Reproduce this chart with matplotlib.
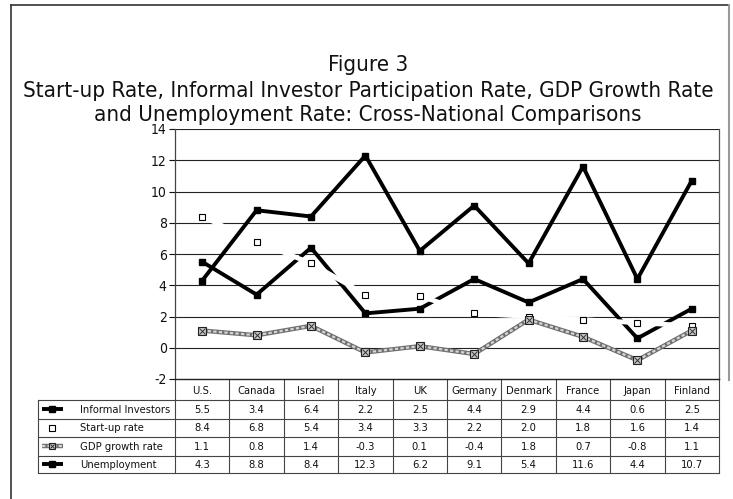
import matplotlib
matplotlib.use("Agg")
import matplotlib.pyplot as plt

# ---------------- data ----------------
countries = ["U.S.", "Canada", "Israel", "Italy", "UK", "Germany",
             "Denmark", "France", "Japan", "Finland"]
informal_investors = [5.5, 3.4, 6.4, 2.2, 2.5, 4.4, 2.9, 4.4, 0.6, 2.5]
startup_rate = [8.4, 6.8, 5.4, 3.4, 3.3, 2.2, 2.0, 1.8, 1.6, 1.4]
gdp_growth = [1.1, 0.8, 1.4, -0.3, 0.1, -0.4, 1.8, 0.7, -0.8, 1.1]
unemployment = [4.3, 8.8, 8.4, 12.3, 6.2, 9.1, 5.4, 11.6, 4.4, 10.7]
series_names = ["Informal Investors", "Start-up rate", "GDP growth rate", "Unemployment"]
yticks = [-2, 0, 2, 4, 6, 8, 10, 12, 14]
title_lines = ["Figure 3",
               "Start-up Rate, Informal Investor Participation Rate, GDP Growth Rate",
               "and Unemployment Rate: Cross-National Comparisons"]

plt.rcParams["font.family"] = ["DejaVu Sans"]
plt.rcParams["font.stretch"] = "condensed"

W, H = 733, 499
fig = plt.figure(figsize=(W / 100, H / 100), dpi=100)
fig.patch.set_facecolor("white")

# plot area in pixel coordinates
PL, PR, PT, PB = 175, 719, 129, 379
ax = fig.add_axes([PL / W, 1 - PB / H, (PR - PL) / W, (PB - PT) / H], zorder=2)
ax.set_facecolor("none")
x = list(range(len(countries)))

# styles for each series
def draw_informal(a, xs, ys, ms=5, me=None):
    a.plot(xs, ys, color="black", lw=2.8, marker="s", ms=ms, markevery=me,
           mfc="black", mec="black", zorder=3, solid_capstyle="butt")

def draw_startup(a, xs, ys, ms=5, line=True):
    if line:
        a.plot(xs, ys, color="white", lw=3.4, zorder=4)
    a.plot(xs, ys, ls="none", marker="s", ms=ms, mfc="white",
           mec="black", mew=0.8, zorder=5)

def draw_gdp(a, xs, ys, ms=5.5, me=None):
    a.plot(xs, ys, color="#6e6e6e", lw=3.2, zorder=6, solid_capstyle="butt")
    a.plot(xs, ys, color="#d4d4d4", lw=1.6, ls=(0, (1.5, 1)), zorder=6)
    a.plot(xs, ys, ls="none", marker="s", ms=ms, mfc="#c8c8c8", markevery=me,
           mec="#222222", mew=0.8, zorder=7)
    a.plot(xs, ys, ls="none", marker="x", ms=ms * 0.7, mec="#333333",
           markevery=me, mew=0.7, zorder=8)

def draw_unemp(a, xs, ys, ms=5, me=None):
    a.plot(xs, ys, color="black", lw=2.8, marker="s", ms=ms, markevery=me,
           mfc="black", mec="black", zorder=9, solid_capstyle="butt")

draw_informal(ax, x, informal_investors)
draw_startup(ax, x, startup_rate)
draw_gdp(ax, x, gdp_growth)
draw_unemp(ax, x, unemployment)

ax.set_xlim(-0.5, len(countries) - 0.5)
ax.set_ylim(yticks[0], yticks[-1])
ax.set_yticks(yticks)
ax.set_yticklabels([str(t) for t in yticks], fontsize=10)
ax.set_xticks([])
for t in yticks[1:]:
    ax.axhline(t, color="#222222", lw=0.8, zorder=1)
ax.tick_params(axis="y", length=4, width=0.8, pad=2, colors="#111111")
ax.spines["top"].set_visible(False)
ax.spines["left"].set_color("#444444")
ax.spines["left"].set_linewidth(0.9)
ax.spines["right"].set_color("#555555")
ax.spines["right"].set_linewidth(0.9)
ax.spines["bottom"].set_color("#222222")
ax.spines["bottom"].set_linewidth(1.0)

# overlay in pixel coordinates for title, table and frame
ov = fig.add_axes([0, 0, 1, 1], zorder=1)
ov.set_xlim(0, W)
ov.set_ylim(H, 0)
ov.axis("off")

# frame
ov.plot([11, 11], [5, H], color="#333333", lw=1.2)
ov.plot([11, 729], [5, 5], color="#333333", lw=1.2)
ov.plot([729, 729], [5, 380], color="#999999", lw=1.5)

# title
title_y = [65, 91, 115]
for txt, ty in zip(title_lines, title_y):
    ov.text(368, ty, txt, ha="center", va="center", fontsize=16, color="#111111")

# table
col_w = (PR - PL) / len(countries)
row_edges = [400, 418.5, 437, 455.5, 473]
TL = 38
lc = "#444444"
for y in row_edges:
    ov.plot([TL, PR], [y, y], color=lc, lw=0.8)
ov.plot([TL, TL], [row_edges[0], row_edges[-1]], color=lc, lw=0.8)
for k in range(len(countries) + 1):
    xx = PL + k * col_w
    ov.plot([xx, xx], [PB, row_edges[-1]], color=lc, lw=0.8)

for i, c in enumerate(countries):
    ov.text(PL + (i + 0.5) * col_w, (PB + row_edges[0]) / 2 + 1, c,
            ha="center", va="center", fontsize=8, color="#111111")

rows = [informal_investors, startup_rate, gdp_growth, unemployment]
for r, (name, vals) in enumerate(zip(series_names, rows)):
    yc = (row_edges[r] + row_edges[r + 1]) / 2
    for i, v in enumerate(vals):
        ov.text(PL + (i + 0.5) * col_w, yc + 0.5, f"{v:.1f}",
                ha="center", va="center", fontsize=8, color="#111111")
    ov.text(80, yc + 0.5, name, ha="left", va="center", fontsize=8, color="#111111")

# legend keys
key_x = [42, 52, 63]
ky = [(row_edges[r] + row_edges[r + 1]) / 2 for r in range(4)]
draw_informal(ov, key_x, [ky[0]] * 3, ms=4.5, me=[1])
draw_startup(ov, [key_x[1]], [ky[1]], ms=4.5, line=False)
draw_gdp(ov, key_x, [ky[2]] * 3, ms=4.5, me=[1])
draw_unemp(ov, key_x, [ky[3]] * 3, ms=4.5, me=[1])

fig.savefig("out.png", dpi=100, facecolor="white")
